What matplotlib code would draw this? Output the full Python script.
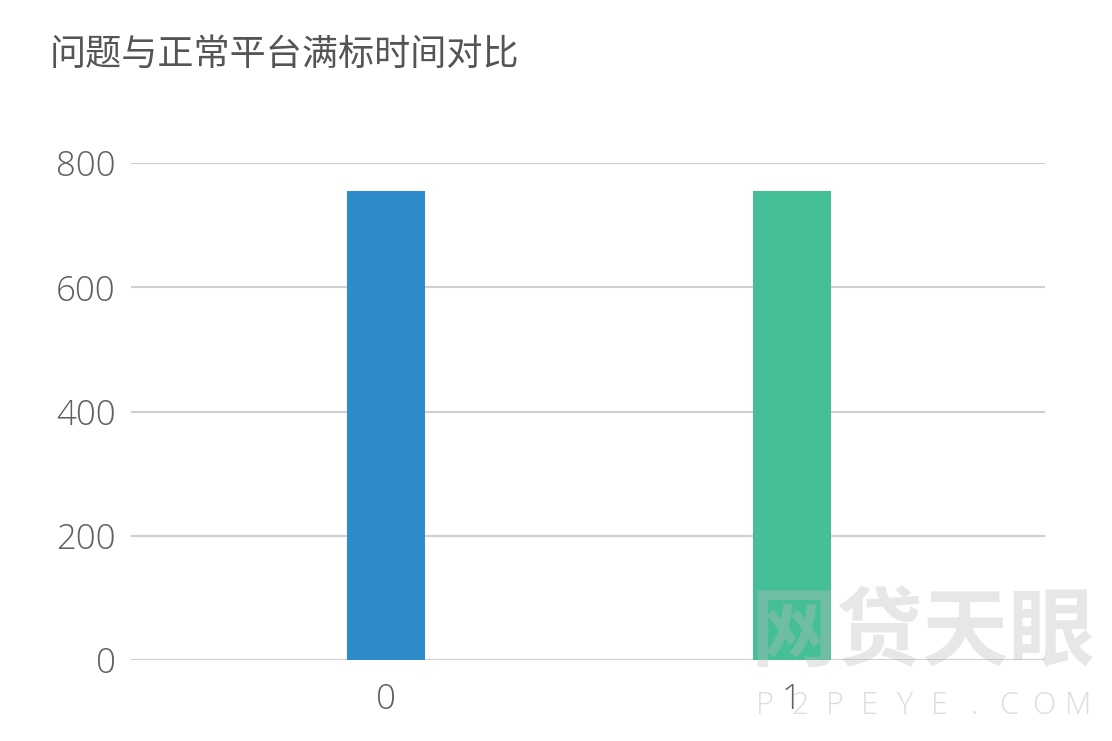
import matplotlib.pyplot as plt

plt.rcParams['font.family'] = ['Noto Sans CJK SC', 'DejaVu Sans']

# --- data ---
categories = ['0', '1']
values = [755, 755]
colors = ['#2f8ccb', '#45bf98']
y_ticks = [0, 200, 400, 600, 800]
title = '问题与正常平台满标时间对比'

fig = plt.figure(figsize=(11.12, 7.41), dpi=100)
ax = fig.add_axes([0.1178, 0.1093, 0.8219, 0.6707])

x = list(range(len(categories)))
ax.bar(x, values, width=0.192, color=colors, zorder=3)

ax.set_ylim(0, 800)
ax.set_xlim(-0.628, 1.623)
ax.set_yticks(y_ticks)
ax.set_yticklabels([str(t) for t in y_ticks])
ax.set_xticks(x)
ax.set_xticklabels(categories)
ax.grid(axis='y', color='#d0d0d0', linewidth=1.5, zorder=0)
ax.tick_params(axis='both', length=0, labelsize=25, labelcolor='#606060')
ax.tick_params(axis='y', pad=11)
ax.tick_params(axis='x', pad=16)
for lbl in ax.get_xticklabels() + ax.get_yticklabels():
    lbl.set_family(['Open Sans', 'DejaVu Sans'])
    lbl.set_fontweight('light')
for s in ax.spines.values():
    s.set_visible(False)

fig.text(0.045, 0.926, title, fontsize=26, color='#555555', va='center', ha='left')

# faint watermark (P2PEYE logo)
fig.text(0.83, 0.145, '网贷天眼', fontsize=62, color='#bbbbbb', alpha=0.35,
         ha='center', va='center', fontweight='bold')
for i, ch in enumerate('P2PEYE.COM'):
    fig.text(0.688 + i * 0.0313, 0.047, ch, fontsize=22, color='#bbbbbb', alpha=0.5,
             ha='center', va='center', family=['Open Sans', 'DejaVu Sans'],
             fontweight='light')

fig.savefig('out.png', dpi=100)
